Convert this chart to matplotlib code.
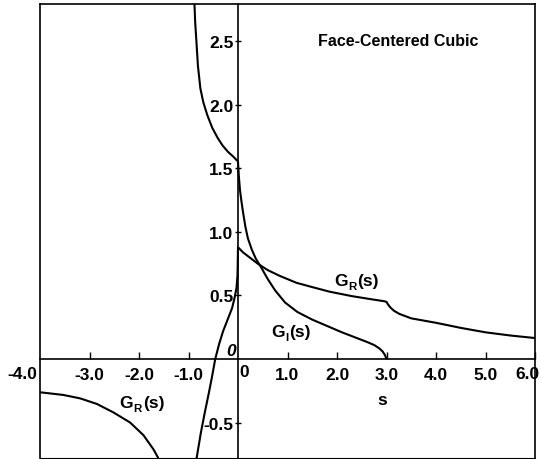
import matplotlib
matplotlib.use("Agg")
import matplotlib.pyplot as plt
from matplotlib.transforms import blended_transform_factory

# ---- data -------------------------------------------------------------
# Real part of G(s) below the band (s < -1)
gr_low_s = [-4.0, -3.53, -3.19, -2.85, -2.52, -2.18, -1.91, -1.71, -1.61]
gr_low_v = [-0.262, -0.283, -0.31, -0.354, -0.42, -0.50, -0.60, -0.71, -0.78]

# Real part of G(s) inside and above the band
gr_s = [-0.84, -0.75, -0.67, -0.58, -0.52, -0.46, -0.38, -0.30, -0.20, -0.12,
        -0.07, -0.03, -0.01, 0.0, 0.1, 0.2, 0.4, 0.6, 0.84, 1.18, 1.51, 1.85,
        2.3, 2.7, 2.95, 3.0, 3.03, 3.08, 3.15, 3.26, 3.5, 4.0, 4.5, 5.0, 5.5, 6.0]
gr_v = [-0.79, -0.58, -0.42, -0.25, -0.13, 0.0, 0.12, 0.22, 0.32, 0.40,
        0.48, 0.56, 0.66, 0.88, 0.84, 0.81, 0.75, 0.70, 0.655, 0.60, 0.565, 0.53,
        0.495, 0.47, 0.455, 0.45, 0.43, 0.405, 0.38, 0.355, 0.32, 0.285, 0.245, 0.21, 0.185, 0.165]

# Imaginary part of G(s), -1 < s < 0
gi_left_s = [-0.88, -0.865, -0.84, -0.81, -0.76, -0.70, -0.62, -0.52, -0.41, -0.31, -0.20, -0.10, 0.0]
gi_left_v = [2.80, 2.65, 2.50, 2.31, 2.13, 2.02, 1.92, 1.82, 1.74, 1.68, 1.63, 1.595, 1.555]

# Imaginary part of G(s), 0 < s < 3
gi_right_s = [0.0, 0.015, 0.04, 0.07, 0.1, 0.15, 0.2, 0.28, 0.36, 0.47, 0.6, 0.75, 0.95,
              1.2, 1.5, 1.8, 2.1, 2.4, 2.6, 2.75, 2.85, 2.92, 2.97, 3.0]
gi_right_v = [1.555, 1.45, 1.33, 1.24, 1.16, 1.04, 0.95, 0.86, 0.79, 0.72, 0.63, 0.54, 0.445,
              0.37, 0.31, 0.26, 0.21, 0.165, 0.135, 0.11, 0.085, 0.06, 0.03, 0.0]

x_ticks = [-3, -2, -1, 1, 2, 3, 4, 5, 6]
x_ticklabels = ["-3.0", "-2.0", "-1.0", "1.0", "2.0", "3.0", "4.0", "5.0", ""]
y_ticks = [-0.5, 0.5, 1.0, 1.5, 2.0, 2.5]
y_ticklabels = ["-0.5", "0.5", "1.0", "1.5", "2.0", "2.5"]

title_text = "Face-Centered Cubic"

# ---- style ------------------------------------------------------------
plt.rcParams["font.family"] = ["Liberation Sans", "DejaVu Sans"]
plt.rcParams["font.weight"] = "bold"
plt.rcParams["axes.unicode_minus"] = False

FS = 12.5
LW = 1.5

W, H = 541, 460
fig = plt.figure(figsize=(W / 100, H / 100), dpi=100)
rect = [40 / W, 1 / H, 495 / W, 454 / H]

# outer frame
frame = fig.add_axes(rect, zorder=0)
frame.set_xticks([])
frame.set_yticks([])
frame.patch.set_facecolor("white")
for side in ["left", "right", "top"]:
    frame.spines[side].set_linewidth(1.2)
frame.spines["bottom"].set_linewidth(0.8)

ax = fig.add_axes(rect, zorder=1)
ax.patch.set_alpha(0)
ax.set_xlim(-4, 6)
ax.set_ylim(-0.7795, 2.795)

# axes crossing at the origin
for side in ["top", "right"]:
    ax.spines[side].set_visible(False)
ax.spines["left"].set_position(("data", 0))
ax.spines["bottom"].set_position(("data", 0))
ax.spines["left"].set_linewidth(1.2)
ax.spines["bottom"].set_linewidth(1.2)

ax.set_xticks(x_ticks)
ax.set_xticklabels(x_ticklabels)
ax.set_yticks(y_ticks)
ax.set_yticklabels(y_ticklabels)
ax.tick_params(axis="x", direction="in", length=5, width=1.0, pad=5.5, labelsize=FS)
ax.tick_params(axis="y", direction="inout", length=5, width=1.0, pad=0.7, labelsize=FS)

# curves
kw = dict(color="black", lw=LW, solid_capstyle="butt", clip_on=True)
ax.plot(gr_low_s, gr_low_v, **kw)
ax.plot(gr_s, gr_v, **kw)
ax.plot(gi_left_s, gi_left_v, **kw)
ax.plot(gi_right_s, gi_right_v, **kw)

TXT = dict(fontsize=FS, fontweight="bold")

# extra axis annotations
ax.text(-4.06, -0.118, "-4.0", ha="right", va="center", **TXT)
edge = blended_transform_factory(fig.transFigure, ax.transData)
ax.text(540 / W, -0.118, "6.0", ha="right", va="center", transform=edge, **TXT)
ax.text(0.13, -0.10, "0", ha="center", va="center", **TXT)
ax.text(-0.13, 0.063, "0", ha="center", va="center", style="italic", **TXT)
ax.text(2.92, -0.315, "s", ha="center", va="center", **TXT)


def subscript_label(x, y, base, sub, tail):
    """Bold 'G_sub(s)' built from three text pieces."""
    g = ax.text(x, y, base, ha="left", va="bottom", **TXT)
    s = ax.annotate(sub, xy=(1, 0), xycoords=g, xytext=(0.3, -2.5),
                    textcoords="offset points", ha="left", va="bottom",
                    fontsize=FS * 0.66, fontweight="bold")
    ax.annotate(tail, xy=(1, 0), xycoords=(s, g), xytext=(0.5, 0),
                textcoords="offset points", ha="left", va="bottom", **TXT)


# curve labels and title
ax.text(3.24, 2.51, title_text, ha="center", va="center", fontsize=11.5, fontweight="bold")
subscript_label(1.95, 0.56, "G", "R", "(s)")
subscript_label(0.68, 0.16, "G", "I", "(s)")
subscript_label(-2.39, -0.40, "G", "R", "(s)")

fig.savefig("out.png", dpi=100)
